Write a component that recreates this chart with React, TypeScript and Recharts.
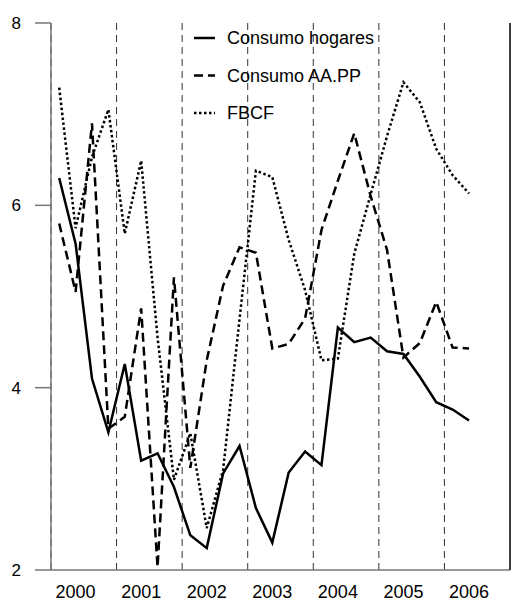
import React from "react";
import {
  LineChart,
  Line,
  XAxis,
  YAxis,
  ReferenceLine,
} from "recharts";

// quarterly series, 2000Q1 .. 2006Q2
const years = ["2000", "2001", "2002", "2003", "2004", "2005", "2006"];

const hogares = [
  6.3, 5.58, 4.1, 3.51, 4.26, 3.2, 3.28, 2.91, 2.38, 2.24, 3.06, 3.36, 2.68,
  2.3, 3.07, 3.3, 3.15, 4.66, 4.5, 4.55, 4.4, 4.37, 4.12, 3.84, 3.76, 3.64,
];

const aapp = [
  5.8, 5.05, 6.9, 3.55, 3.68, 4.87, 2.03, 5.21, 3.12, 4.3, 5.12, 5.54, 5.48,
  4.43, 4.48, 4.76, 5.73, 6.27, 6.79, 6.1, 5.51, 4.33, 4.49, 4.94, 4.44, 4.43,
];

const fbcf = [
  7.29, 5.75, 6.53, 7.05, 5.69, 6.49, 4.55, 2.99, 3.5, 2.46, 3.1, 4.75, 6.38,
  6.31, 5.62, 5.07, 4.3, 4.32, 5.47, 6.12, 6.76, 7.35, 7.13, 6.62, 6.33, 6.13,
];

const yTicks = [2, 4, 6, 8];

const data = hogares.map((v, i) => ({
  q: i,
  hogares: v,
  aapp: aapp[i],
  fbcf: fbcf[i],
}));

const yearTicks = years.map((_, k) => k * 4 + 1);
const yearBounds = [-0.5, ...years.slice(1).map((_, k) => (k + 1) * 4 - 0.5)];

const font = '"Liberation Sans", Arial, sans-serif';

const series = [
  { key: "hogares", name: "Consumo hogares", dash: undefined },
  { key: "aapp", name: "Consumo AA.PP", dash: "9 5" },
  { key: "fbcf", name: "FBCF", dash: "2.5 2.5" },
];

function LegendBox() {
  return (
    <svg
      width={523}
      height={603}
      style={{ position: "absolute", left: 0, top: 0, pointerEvents: "none" }}
    >
      {series.map((s, i) => {
        const y = 38 + i * 37.5;
        return (
          <g key={s.key}>
            <line
              x1={194}
              x2={215}
              y1={y}
              y2={y}
              stroke="#000"
              strokeWidth={2.5}
              strokeDasharray={s.dash}
            />
            <text
              x={227}
              y={y + 6.3}
              fontSize={18}
              fontFamily={font}
              fill="#000"
            >
              {s.name}
            </text>
          </g>
        );
      })}
    </svg>
  );
}

export default function App() {
  return (
    <div style={{ position: "absolute", left: 0, top: 0, width: 523, height: 603 }}>
      <LineChart
        width={523}
        height={603}
        data={data}
        margin={{ top: 23, right: 0, bottom: 0, left: 0 }}
      >
        <XAxis
          type="number"
          dataKey="q"
          domain={[-0.5, 27.5]}
          ticks={yearTicks}
          tickFormatter={(v: number) => years[(v - 1) / 4]}
          tickLine={false}
          tickSize={0}
          tickMargin={15}
          height={33}
          axisLine={{ stroke: "#777", strokeWidth: 1.5 }}
          tick={{ fontSize: 18, fill: "#000", fontFamily: font }}
        />
        <YAxis
          domain={[2, 8]}
          ticks={yTicks}
          width={51}
          tickSize={16}
          tickMargin={14}
          axisLine={{ stroke: "#777", strokeWidth: 1.5 }}
          tickLine={{ stroke: "#777", strokeWidth: 1.5 }}
          tick={{ fontSize: 17, fill: "#000", fontFamily: font }}
        />
        <YAxis
          yAxisId="r"
          orientation="right"
          domain={[2, 8]}
          ticks={yTicks}
          width={13}
          tickSize={13}
          tickFormatter={() => ""}
          axisLine={{ stroke: "#000", strokeWidth: 1.5 }}
          tickLine={{ stroke: "#555", strokeWidth: 1.5 }}
        />
        {yearBounds.map((x) => (
          <ReferenceLine
            key={x}
            x={x}
            stroke="#333"
            strokeWidth={1}
            strokeDasharray="7 5"
          />
        ))}
        {series.map((s) => (
          <Line
            key={s.key}
            dataKey={s.key}
            name={s.name}
            stroke="#000"
            strokeWidth={2.5}
            strokeDasharray={s.dash}
            dot={false}
            activeDot={false}
            type="linear"
            isAnimationActive={false}
          />
        ))}
      </LineChart>
      <LegendBox />
    </div>
  );
}
